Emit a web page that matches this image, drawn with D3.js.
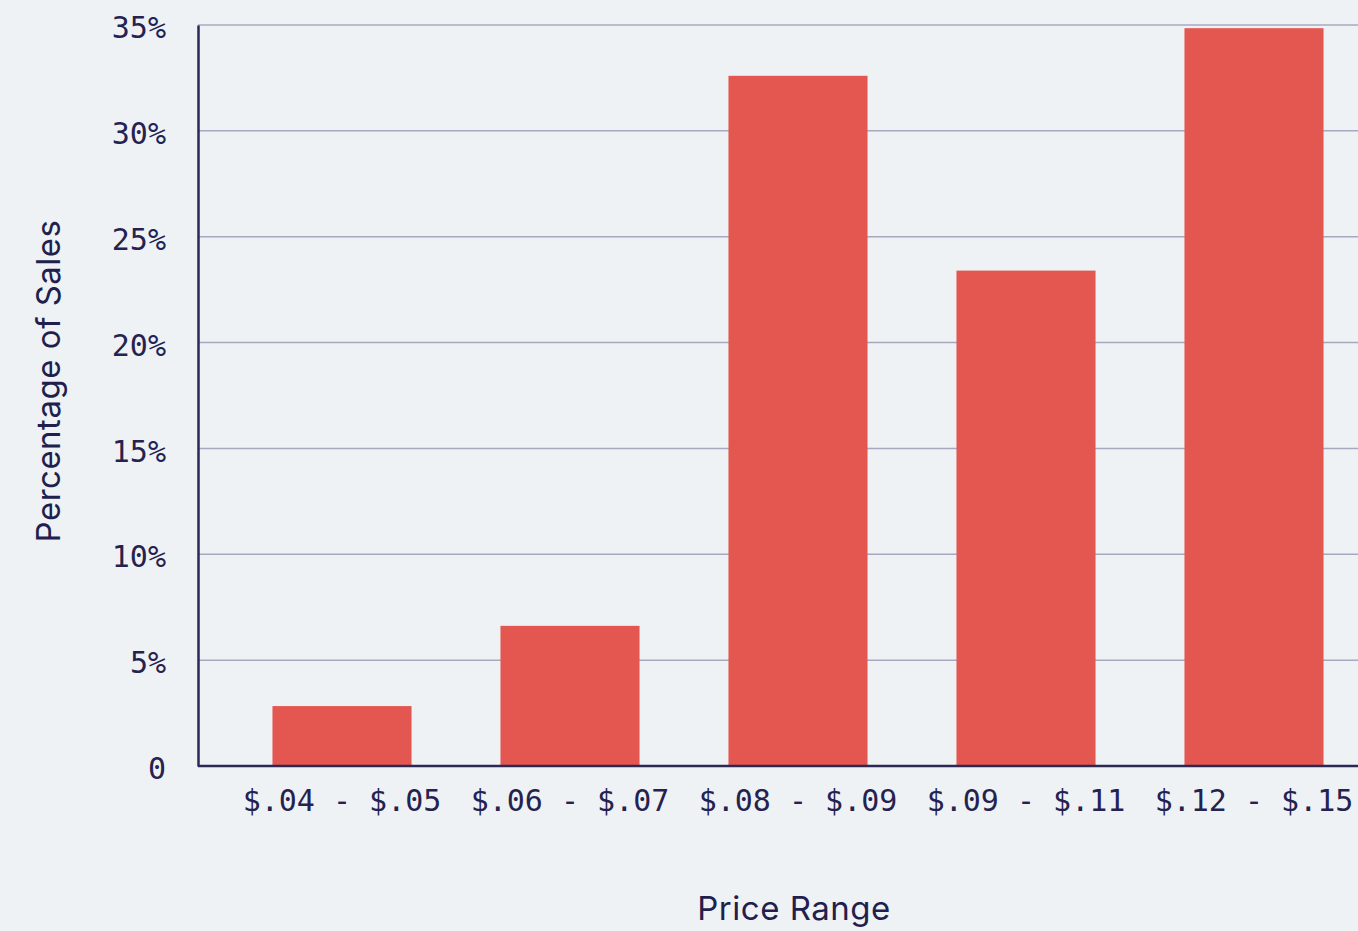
<!DOCTYPE html>
<html><head><meta charset="utf-8">
<script src="https://cdn.jsdelivr.net/npm/d3@7"></script>
<style>
html,body{margin:0;padding:0;background:#eef2f5;}
svg{display:block;}
</style></head>
<body>
<svg id="chart" width="1358" height="931"></svg>
<script>
const categories = ["$.04 - $.05", "$.06 - $.07", "$.08 - $.09", "$.09 - $.11", "$.12 - $.15"];
const values = [2.83, 6.62, 32.6, 23.4, 34.85];
const yTicks = [0, 5, 10, 15, 20, 25, 30, 35];

const svg = d3.select("#chart");
const x0 = 198, y0 = 766, yTop = 25;

const x = d3.scaleBand().domain(categories).range([228, 1368]).paddingInner(0.39).paddingOuter(0.195);
const y = d3.scaleLinear().domain([0, 35]).range([y0, yTop]);

// gridlines
svg.append("g").selectAll("line").data(yTicks.filter(d => d > 0)).join("line")
  .attr("x1", x0).attr("x2", 1358)
  .attr("y1", d => y(d)).attr("y2", d => y(d))
  .attr("stroke", "#a9a8c0").attr("stroke-width", 1.5);

// bars
svg.append("g").selectAll("rect").data(values).join("rect")
  .attr("x", (d, i) => x(categories[i]))
  .attr("width", x.bandwidth())
  .attr("y", d => y(d))
  .attr("height", d => y(0) - y(d))
  .attr("fill", "#e45750");

// y axis
const yAxis = d3.axisLeft(y).tickValues(yTicks).tickSize(0).tickPadding(32)
  .tickFormat(d => d === 0 ? "0" : d + "%");
const gy = svg.append("g").attr("transform", `translate(${x0},0)`).call(yAxis);
gy.select(".domain").attr("stroke", "#2b2853").attr("stroke-width", 2.5);
gy.selectAll("text").attr("font-family", "DejaVu Sans Mono").attr("font-size", 30).attr("fill", "#26224f").attr("dy", "0.42em");

// x axis
const xAxis = d3.axisBottom(x).tickSize(0).tickPadding(24);
const gx = svg.append("g").attr("transform", `translate(0,${y0})`).call(xAxis);
gx.select(".domain").remove();
gx.append("line").attr("x1", x0).attr("x2", 1358).attr("y1", 0).attr("y2", 0)
  .attr("stroke", "#2b2853").attr("stroke-width", 2.5);
gx.selectAll("text").attr("font-family", "DejaVu Sans Mono").attr("font-size", 30).attr("fill", "#26224f");

// axis titles
svg.append("text").attr("x", 794).attr("y", 920).attr("text-anchor", "middle")
  .attr("font-family", "Inter").attr("font-size", 33).attr("letter-spacing", 0.5).attr("fill", "#221e4d").text("Price Range");
svg.append("text").attr("transform", "translate(60,381) rotate(-90)").attr("text-anchor", "middle")
  .attr("font-family", "Inter").attr("font-size", 33).attr("letter-spacing", 0.5).attr("fill", "#221e4d").text("Percentage of Sales");
</script>
</body></html>
